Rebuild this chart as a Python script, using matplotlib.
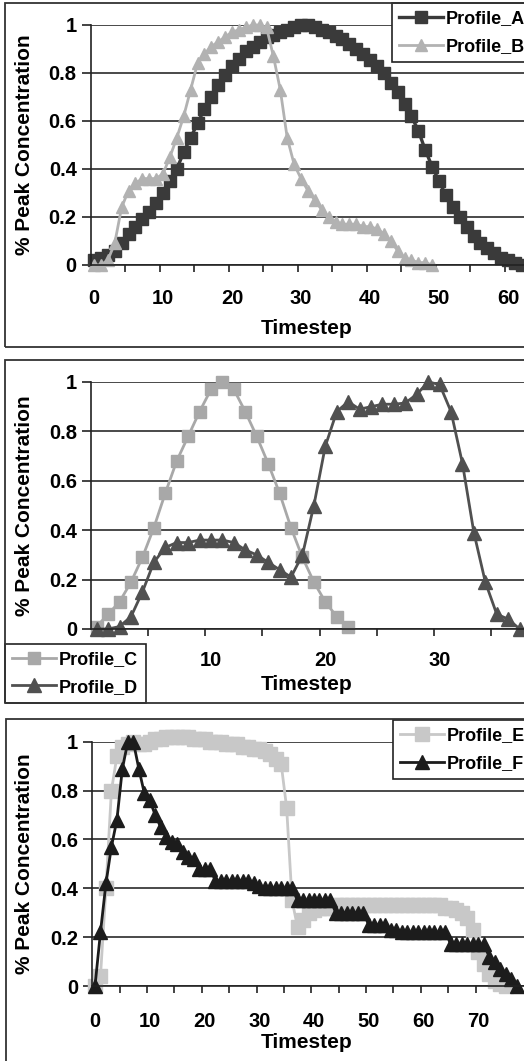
import numpy as np
import matplotlib
matplotlib.use('Agg')
import matplotlib.pyplot as plt
from matplotlib.patches import Rectangle

plt.rcParams['font.family'] = ['Liberation Sans', 'DejaVu Sans']
plt.rcParams['font.weight'] = 'bold'
plt.rcParams['axes.labelweight'] = 'bold'

# panel 1 data
profile_a = [0.02, 0.03, 0.04, 0.06, 0.09, 0.13, 0.16, 0.19, 0.22, 0.26,
             0.30, 0.35, 0.40, 0.47, 0.53, 0.59, 0.65, 0.70, 0.75, 0.79,
             0.83, 0.86, 0.89, 0.91, 0.93, 0.95, 0.96, 0.97, 0.98, 0.99,
             1.00, 1.00, 0.99, 0.98, 0.97, 0.955, 0.94, 0.92, 0.90, 0.88,
             0.855, 0.83, 0.80, 0.76, 0.72, 0.67, 0.62, 0.56, 0.48, 0.41,
             0.35, 0.29, 0.24, 0.20, 0.16, 0.12, 0.09, 0.07, 0.05, 0.03,
             0.02, 0.01, 0.0]
profile_b = [0.0, 0.0, 0.02, 0.09, 0.24, 0.31, 0.34, 0.36, 0.36, 0.36,
             0.38, 0.45, 0.53, 0.62, 0.73, 0.84, 0.88, 0.91, 0.93, 0.95,
             0.97, 0.98, 0.99, 1.00, 1.00, 0.99, 0.87, 0.73, 0.53, 0.42,
             0.36, 0.31, 0.27, 0.23, 0.20, 0.18, 0.17, 0.17, 0.17, 0.16,
             0.16, 0.15, 0.13, 0.10, 0.06, 0.03, 0.02, 0.01, 0.01, 0.0]

# panel 2 data
profile_c = [0.01, 0.06, 0.11, 0.19, 0.29, 0.41, 0.55, 0.68, 0.78, 0.88,
             0.97, 1.00, 0.97, 0.88, 0.78, 0.67, 0.55, 0.41, 0.29, 0.19,
             0.11, 0.05, 0.01]
profile_d = [0.0, 0.0, 0.01, 0.05, 0.15, 0.27, 0.33, 0.35, 0.35, 0.36,
             0.36, 0.36, 0.35, 0.32, 0.30, 0.27, 0.24, 0.21, 0.30, 0.50,
             0.74, 0.88, 0.92, 0.89, 0.90, 0.91, 0.91, 0.915, 0.95, 1.00,
             0.99, 0.88, 0.67, 0.39, 0.19, 0.06, 0.04, 0.0]

# panel 3 data
profile_e = [0.0, 0.04, 0.40, 0.80, 0.94, 0.98, 0.99, 1.00, 0.99, 0.99,
             1.00, 1.01, 1.01, 1.02, 1.02, 1.02, 1.02, 1.02, 1.01, 1.01,
             1.01, 1.00, 1.00, 1.00, 0.99, 0.99, 0.99, 0.98, 0.98, 0.97,
             0.97, 0.96, 0.95, 0.93, 0.91, 0.73, 0.35, 0.24, 0.27, 0.30,
             0.31, 0.32, 0.32, 0.32, 0.33, 0.33, 0.33, 0.33, 0.33, 0.33,
             0.33, 0.33, 0.33, 0.33, 0.33, 0.33, 0.33, 0.33, 0.33, 0.33,
             0.33, 0.33, 0.33, 0.33, 0.32, 0.32, 0.31, 0.30, 0.28, 0.23,
             0.14, 0.09, 0.05, 0.02, 0.01, 0.0]
profile_f = [0.0, 0.22, 0.42, 0.57, 0.68, 0.89, 1.00, 1.00, 0.89, 0.79,
             0.76, 0.70, 0.65, 0.61, 0.59, 0.58, 0.55, 0.53, 0.52, 0.48,
             0.48, 0.48, 0.43, 0.43, 0.43, 0.43, 0.43, 0.43, 0.43, 0.42,
             0.41, 0.40, 0.40, 0.40, 0.40, 0.40, 0.40, 0.35, 0.35, 0.35,
             0.35, 0.35, 0.35, 0.35, 0.30, 0.30, 0.30, 0.30, 0.30, 0.30,
             0.25, 0.25, 0.25, 0.25, 0.23, 0.23, 0.22, 0.22, 0.22, 0.22,
             0.22, 0.22, 0.22, 0.22, 0.22, 0.17, 0.17, 0.17, 0.17, 0.17,
             0.17, 0.17, 0.12, 0.10, 0.07, 0.05, 0.03, 0.0]

y_ticks = [0, 0.2, 0.4, 0.6, 0.8, 1]
y_ticklabels = ['0', '0.2', '0.4', '0.6', '0.8', '1']

W, H = 524, 1061
fig = plt.figure(figsize=(W / 100, H / 100), dpi=100)
fig.patch.set_facecolor('white')


def box(x0, y0, x1, y1):
    # outer frame of a panel, pixel coords from top-left
    r = Rectangle((x0 / W, 1 - y1 / H), (x1 - x0) / W, (y1 - y0) / H,
                  transform=fig.transFigure, fill=False,
                  edgecolor='#333333', lw=1.3)
    fig.add_artist(r)


def panel(x0px, scale, xmax, ytop, ybot, major, labels, label_gap, xlab_y):
    left = x0px - 0.5 * scale
    right = x0px + xmax * scale
    ax = fig.add_axes([left / W, 1 - ybot / H, (right - left) / W, (ybot - ytop) / H])
    ax.set_xlim(-0.5, xmax)
    ax.set_ylim(0, 1)
    ax.set_yticks(y_ticks)
    ax.set_yticklabels(y_ticklabels)
    ax.set_xticks(major)
    ax.set_xticklabels(labels)
    ax.set_xticks(np.arange(4.5, xmax, 5), minor=True)
    ax.tick_params(axis='x', which='major', length=0, pad=label_gap, labelsize=14.5)
    ax.tick_params(axis='x', which='minor', length=5, width=1.2, color='#222222')
    ax.tick_params(axis='y', length=6.5, width=1.2, pad=3.5, labelsize=14.5, color='#222222')
    ax.yaxis.grid(True, color='#2a2a2a', lw=1.2)
    ax.set_axisbelow(True)
    for s in ['top', 'right']:
        ax.spines[s].set_visible(False)
    for s in ['left', 'bottom']:
        ax.spines[s].set_color('#222222')
        ax.spines[s].set_linewidth(1.2)
    ax.set_xlabel('Timestep', fontsize=15, fontweight='bold')
    ax.xaxis.set_label_coords((307 - left) / (right - left), -(xlab_y - ybot) / (ybot - ytop))
    ax.xaxis.label.set_va('center')
    ax.set_ylabel('% Peak Concentration', fontsize=15, fontweight='bold')
    ax.yaxis.set_label_coords(-(left - 25) / (right - left), 0.5)
    ax.yaxis.label.set_va('center')
    return ax


def leg(ax, x, y, loc):
    lg = ax.legend(loc=loc, bbox_to_anchor=(x / W, 1 - y / H), bbox_transform=fig.transFigure,
                   fontsize=13, frameon=True, fancybox=False, edgecolor='#222222',
                   framealpha=1, borderaxespad=0, borderpad=0.4, handlelength=2.4,
                   handletextpad=0.2, labelspacing=0.6)
    lg.get_frame().set_linewidth(1.2)
    return lg


# panel 1
box(5, 3, 535, 347)
ax1 = panel(94, 6.9, 63, 25, 265, list(range(0, 61, 10)),
            [str(v) for v in range(0, 61, 10)], 17, 328)
ax1.plot(range(len(profile_a)), profile_a, color='#3a3a3a', lw=2.4, marker='s', ms=8.5,
         mec='#3a3a3a', label='Profile_A', clip_on=False)
ax1.plot(range(len(profile_b)), profile_b, color='#b2b2b2', lw=2, marker='^', ms=8.5,
         mec='#b2b2b2', label='Profile_B', clip_on=False)
leg(ax1, 392, 3, 'upper left')

# panel 2 (the 0 label sits under the legend)
box(5, 360, 535, 703)
ax2 = panel(96.7, 11.43, 38, 382, 629, [10, 20, 30], ['10', '20', '30'], 16, 685)
ax2.plot(range(len(profile_c)), profile_c, color='#a8a8a8', lw=2, marker='s', ms=9,
         mec='#a8a8a8', label='Profile_C', clip_on=False)
ax2.plot(range(len(profile_d)), profile_d, color='#505050', lw=2, marker='^', ms=9.5,
         mec='#505050', label='Profile_D', clip_on=False)
leg(ax2, 5, 703, 'lower left')

# panel 3
box(6, 719, 535, 1075)
ax3 = panel(95, 5.475, 79, 741.7, 986, list(range(0, 71, 10)),
            [str(v) for v in range(0, 71, 10)], 19, 1043)
ax3.plot(range(len(profile_e)), profile_e, color='#c8c8c8', lw=2, marker='s', ms=9.5,
         mec='#c8c8c8', label='Profile_E', clip_on=False)
ax3.plot(range(len(profile_f)), profile_f, color='#1c1c1c', lw=2, marker='^', ms=9.5,
         mec='#1c1c1c', label='Profile_F', clip_on=False)
leg(ax3, 393, 720, 'upper left')

plt.savefig('out.png', dpi=100, facecolor='white')
